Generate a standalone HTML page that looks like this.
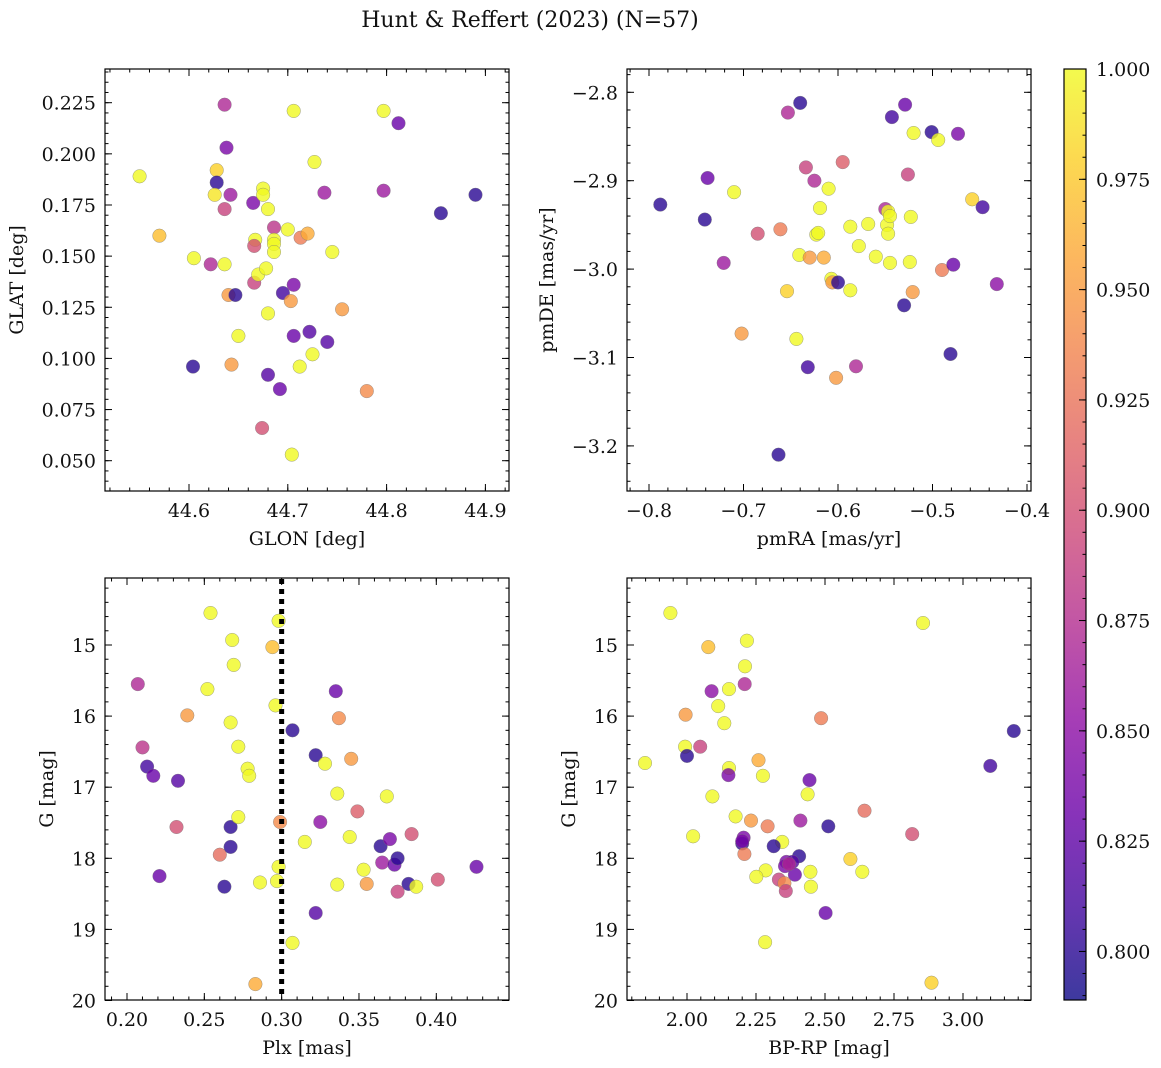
<!DOCTYPE html>
<html><head><meta charset="utf-8"><title>Hunt & Reffert (2023)</title>
<style>
html,body{margin:0;padding:0;background:#fff;}
svg{display:block;font-family:"DejaVu Serif","Liberation Serif",serif;}
</style></head>
<body>
<svg id="fig" xmlns="http://www.w3.org/2000/svg" width="1161" height="1068" viewBox="0 0 1161 1068">
<defs>
<linearGradient id="plasmaGrad" x1="0" y1="1" x2="0" y2="0"></linearGradient>
</defs>
<text x="530" y="27" font-size="22" text-anchor="middle" fill="#111">Hunt &amp; Reffert (2023) (N=57)</text>
</svg>
<script>
// ---- data ----
const glon = [44.550,44.570,44.605,44.622,44.636,44.636,44.636,44.638,44.628,44.628,44.626,44.642,44.640,44.647,44.650,44.643,44.604,44.665,44.667,44.666,44.666,44.670,44.675,44.675,44.680,44.678,44.680,44.674,44.680,44.686,44.686,44.686,44.686,44.692,44.695,44.700,44.703,44.706,44.706,44.706,44.704,44.712,44.713,44.720,44.722,44.727,44.725,44.737,44.740,44.745,44.755,44.780,44.797,44.797,44.812,44.855,44.890];
const glat = [0.189,0.160,0.149,0.146,0.146,0.173,0.224,0.203,0.192,0.186,0.180,0.180,0.131,0.131,0.111,0.097,0.096,0.176,0.158,0.155,0.137,0.141,0.183,0.180,0.173,0.144,0.122,0.066,0.092,0.164,0.158,0.156,0.152,0.085,0.132,0.163,0.128,0.221,0.136,0.111,0.053,0.096,0.159,0.161,0.113,0.196,0.102,0.181,0.108,0.152,0.124,0.084,0.221,0.182,0.215,0.171,0.180];
const prob1 = [1,0.97,1,0.87,1,0.89,0.87,0.84,0.98,0.80,0.99,0.86,0.95,0.80,1,0.95,0.80,0.84,1,0.90,0.89,1,1,1,1,1,1,0.90,0.82,0.88,1,1,1,0.83,0.81,1,0.95,1,0.84,0.83,1,1,0.93,0.96,0.82,1,1,0.86,0.82,1,0.95,0.94,1,0.86,0.83,0.80,0.80];

const pmra = [-0.788,-0.741,-0.738,-0.721,-0.702,-0.710,-0.685,-0.661,-0.653,-0.654,-0.644,-0.640,-0.632,-0.634,-0.625,-0.641,-0.630,-0.623,-0.621,-0.619,-0.615,-0.610,-0.607,-0.606,-0.600,-0.602,-0.595,-0.587,-0.587,-0.581,-0.578,-0.568,-0.560,-0.550,-0.547,-0.548,-0.547,-0.545,-0.545,-0.543,-0.530,-0.529,-0.526,-0.524,-0.523,-0.520,-0.521,-0.501,-0.494,-0.490,-0.481,-0.478,-0.473,-0.458,-0.447,-0.432,-0.663];
const pmde = [-2.927,-2.944,-2.897,-2.993,-3.073,-2.913,-2.960,-2.955,-2.823,-3.025,-3.079,-2.812,-3.111,-2.885,-2.900,-2.984,-2.987,-2.961,-2.959,-2.931,-2.987,-2.909,-3.011,-3.015,-3.015,-3.123,-2.879,-3.024,-2.952,-3.110,-2.974,-2.949,-2.986,-2.932,-2.935,-2.950,-2.960,-2.940,-2.993,-2.828,-3.041,-2.814,-2.893,-2.992,-2.941,-2.846,-3.026,-2.845,-2.854,-3.001,-3.096,-2.995,-2.847,-2.921,-2.930,-3.017,-3.210];
const prob2 = [0.80,0.80,0.83,0.86,0.95,1,0.90,0.93,0.87,0.98,1,0.80,0.81,0.89,0.87,1,0.95,1,1,1,0.96,1,1,0.95,0.80,0.95,0.91,1,1,0.87,1,1,1,0.87,1,1,1,1,1,0.81,0.80,0.83,0.89,1,1,1,0.95,0.80,1,0.93,0.80,0.83,0.84,0.98,0.81,0.85,0.80];

const plx = [0.207,0.210,0.213,0.217,0.221,0.232,0.233,0.239,0.252,0.254,0.260,0.263,0.267,0.267,0.267,0.268,0.269,0.272,0.272,0.278,0.279,0.283,0.286,0.294,0.296,0.297,0.298,0.298,0.299,0.307,0.307,0.315,0.322,0.322,0.325,0.328,0.335,0.336,0.337,0.336,0.344,0.345,0.349,0.353,0.355,0.364,0.365,0.370,0.373,0.375,0.375,0.382,0.384,0.387,0.368,0.401,0.426];
const gmag3 = [15.55,16.44,16.71,16.84,18.25,17.56,16.91,15.99,15.62,14.55,17.95,18.40,17.84,17.56,16.09,14.93,15.28,16.43,17.42,16.74,16.84,19.77,18.34,15.03,15.85,18.32,14.66,18.12,17.49,16.20,19.19,17.77,16.55,18.77,17.49,16.67,15.65,17.09,16.03,18.37,17.70,16.60,17.34,18.16,18.36,17.83,18.06,17.73,18.09,18.00,18.47,18.36,17.66,18.40,17.13,18.30,18.12];
const prob3 = [0.87,0.88,0.81,0.83,0.83,0.90,0.82,0.95,1,1,0.92,0.80,0.80,0.80,1,1,1,1,1,1,1,0.96,1,0.97,1,1,1,1,0.94,0.80,1,1,0.80,0.82,0.85,1,0.83,1,0.94,1,1,0.95,0.91,1,0.95,0.80,0.86,0.84,0.83,0.80,0.89,0.80,0.90,1,1,0.90,0.83];
const plxRef = [0.30];

const bprp = [1.940,2.855,2.217,2.077,2.210,2.209,2.089,2.152,2.113,1.995,2.486,2.135,3.184,1.993,2.048,2.000,1.848,3.099,2.259,2.152,2.150,2.275,2.444,2.437,2.092,2.643,2.176,2.232,2.411,2.292,2.512,2.022,2.816,2.205,2.200,2.345,2.314,2.208,2.406,2.592,2.360,2.382,2.355,2.285,2.447,2.635,2.251,2.391,2.333,2.353,2.358,2.449,2.502,2.283,2.886,2.200,2.370];
const gmag4 = [14.55,14.69,14.94,15.03,15.30,15.55,15.65,15.62,15.86,15.98,16.03,16.10,16.21,16.43,16.43,16.56,16.66,16.70,16.62,16.73,16.83,16.84,16.90,17.10,17.13,17.33,17.41,17.47,17.47,17.55,17.55,17.69,17.66,17.71,17.79,17.77,17.83,17.94,17.97,18.01,18.05,18.05,18.11,18.17,18.19,18.19,18.26,18.23,18.30,18.35,18.46,18.40,18.77,19.18,19.75,17.76,18.08];
const prob4 = [1,1,1,0.97,1,0.87,0.85,1,1,0.95,0.93,1,0.80,1,0.89,0.80,1,0.81,0.96,1,0.84,1,0.83,1,1,0.92,1,0.95,0.86,0.93,0.80,1,0.90,0.84,0.80,1,0.80,0.93,0.80,0.98,0.84,0.82,0.84,1,1,1,1,0.83,0.89,0.94,0.89,1,0.83,1,0.98,0.84,0.87];

const glonTicks = [44.6,44.7,44.8,44.9];
const glatTicks = [0.050,0.075,0.100,0.125,0.150,0.175,0.200,0.225];
const pmraTicks = [-0.8,-0.7,-0.6,-0.5,-0.4];
const pmdeTicks = [-2.8,-2.9,-3.0,-3.1,-3.2];
const plxTicks = [0.20,0.25,0.30,0.35,0.40];
const gTicks = [15,16,17,18,19,20];
const bprpTicks = [2.00,2.25,2.50,2.75,3.00];
const cbarTicks = [0.800,0.825,0.850,0.875,0.900,0.925,0.950,0.975,1.000];
const cMin = 0.789, cMax = 1.0;

// ---- helpers ----
const NS = "http://www.w3.org/2000/svg";
const svg = document.getElementById('fig');
const FS = 19;
function mk(tag, attrs, parent){ const e=document.createElementNS(NS,tag); for(const k in attrs) e.setAttribute(k,attrs[k]); (parent||svg).appendChild(e); return e; }
const plasma = [[0,[13,8,135]],[0.1,[65,4,157]],[0.2,[106,0,168]],[0.3,[143,13,164]],[0.4,[177,42,144]],[0.5,[204,71,120]],[0.6,[225,100,98]],[0.7,[242,132,75]],[0.8,[252,166,54]],[0.9,[252,206,37]],[1,[240,249,33]]];
function cmap(v){ let t=(v-cMin)/(cMax-cMin); t=Math.max(0,Math.min(1,t));
  for(let i=1;i<plasma.length;i++){ if(t<=plasma[i][0]){ const a=plasma[i-1],b=plasma[i]; const f=(t-a[0])/(b[0]-a[0]);
    const c=a[1].map((x,j)=>Math.round(x+(b[1][j]-x)*f)); return `rgb(${c[0]},${c[1]},${c[2]})`; } }
  return 'rgb(240,249,33)'; }
function lin(d0,p0,d1,p1){ return v=> p0+(v-d0)*(p1-p0)/(d1-d0); }
function fmt(v,dec){ const s=Math.abs(v).toFixed(dec); return (v<0?'\u2212':'')+s; }

function panel(name, box, sx, sy, xr, yr, xTicks, xDec, xMinor, yTicks, yDec, yMinor, xLabel, yLabel, yLabelX, xs, ys, ps){
  const g = mk('g',{});
  
  
  const [L,T,R,B] = box;
  const pg = mk('g',{},g);
  
  
  for(let i=0;i<xs.length;i++){
    const c = mk('circle',{cx:sx(xs[i]).toFixed(1), cy:sy(ys[i]).toFixed(1), r:6.8, fill:cmap(ps[i]), 'fill-opacity':0.8, stroke:'#777', 'stroke-width':0.5, 'stroke-opacity':0.7}, pg);
    
    
  }
  const f = mk('rect',{x:L,y:T,width:R-L,height:B-T,fill:'none',stroke:'#000','stroke-width':1.2},g);
  
  
  const tg = mk('g',{stroke:'#000','stroke-width':1},g);
  for(let v=xr[0]; v<=xr[1]+1e-9; v+=xMinor){ const x=sx(v); if(x<L||x>R) continue;
    mk('line',{x1:x,y1:B,x2:x,y2:B-3.5},tg); mk('line',{x1:x,y1:T,x2:x,y2:T+3.5},tg); }
  for(let v=yr[0]; v<=yr[1]+1e-9; v+=yMinor){ const y=sy(v); if(y<T||y>B) continue;
    mk('line',{x1:L,y1:y,x2:L+3.5,y2:y},tg); mk('line',{x1:R,y1:y,x2:R-3.5,y2:y},tg); }
  xTicks.forEach(v=>{ const x=sx(v); mk('line',{x1:x,y1:B,x2:x,y2:B-7},tg); mk('line',{x1:x,y1:T,x2:x,y2:T+7},tg);
    const t=mk('text',{x:x,y:B+26,'font-size':FS,'text-anchor':'middle',fill:'#111',stroke:'none'},g); t.textContent=fmt(v,xDec);
      });
  yTicks.forEach(v=>{ const y=sy(v); mk('line',{x1:L,y1:y,x2:L+7,y2:y},tg); mk('line',{x1:R,y1:y,x2:R-7,y2:y},tg);
    const t=mk('text',{x:L-9,y:y+7,'font-size':FS,'text-anchor':'end',fill:'#111',stroke:'none'},g); t.textContent=fmt(v,yDec);
      });
  const xl=mk('text',{x:(L+R)/2,y:B+54,'font-size':FS,'text-anchor':'middle',fill:'#111'},g); xl.textContent=xLabel;
   
  const ym=(T+B)/2;
  const yl=mk('text',{x:yLabelX,y:ym,'font-size':FS,'text-anchor':'middle',fill:'#111',transform:`rotate(-90 ${yLabelX} ${ym})`},g); yl.textContent=yLabel;
   
  return g;
}

const s1x = lin(44.6,189,44.9,485.4), s1y = lin(0.050,460.7,0.225,102.7);
panel('glon-glat-panel',[105,69,509,491],s1x,s1y,[44.50,44.94],[0.035,0.245],glonTicks,1,0.02,glatTicks,3,0.005,'GLON [deg]','GLAT [deg]',23,glon,glat,prob1);
const s2x = lin(-0.8,649,-0.4,1027), s2y = lin(-2.8,92.3,-3.2,445.9);
panel('pm-panel',[627,69,1031,491],s2x,s2y,[-0.84,-0.38],[-3.28,-2.76],pmraTicks,1,0.02,pmdeTicks,1,0.02,'pmRA [mas/yr]','pmDE [mas/yr]',553,pmra,pmde,prob2);
const s3x = lin(0.20,127,0.40,436.3), s3y = lin(15,645,20,1000.5);
const p3 = panel('plx-g-panel',[105,578,509,1000],s3x,s3y,[0.18,0.46],[14.0,20.1],plxTicks,2,0.01,gTicks,0,0.2,'Plx [mas]','G [mag]',53,plx,gmag3,prob3);
plxRef.forEach(v=>{ const l=mk('line',{x1:s3x(v),y1:579,x2:s3x(v),y2:999,stroke:'#000','stroke-width':5,'stroke-dasharray':'5,5'},p3);
    });
const s4x = lin(2.0,687,3.0,963), s4y = s3y;
panel('cmd-panel',[627,578,1031,1000],s4x,s4y,[1.80,3.25],[14.0,20.1],bprpTicks,2,0.05,gTicks,0,0.2,'BP-RP [mag]','G [mag]',575,bprp,gmag4,prob4);

const grad = document.getElementById('plasmaGrad');
plasma.forEach(s=>{ mk('stop',{offset:s[0],'stop-color':`rgb(${s[1].join(',')})`},grad); });
const cb = mk('g',{});


const cy = lin(cMin,1000,cMax,69);
mk('rect',{x:1064,y:69,width:22,height:931,fill:'url(#plasmaGrad)','fill-opacity':0.8},cb);
mk('rect',{x:1064,y:69,width:22,height:931,fill:'none',stroke:'#000','stroke-width':1.2},cb);
const cbt = mk('g',{stroke:'#000','stroke-width':1},cb);
for(let v=0.790; v<=1.0001; v+=0.005){ const y=cy(v); mk('line',{x1:1086,y1:y,x2:1082.5,y2:y},cbt); }
cbarTicks.forEach(v=>{ const y=cy(v); mk('line',{x1:1086,y1:y,x2:1079,y2:y},cbt);
  const t=mk('text',{x:1096,y:y+7,'font-size':FS,fill:'#111'},cb); t.textContent=v.toFixed(3);
    });
</script>
</body></html>
